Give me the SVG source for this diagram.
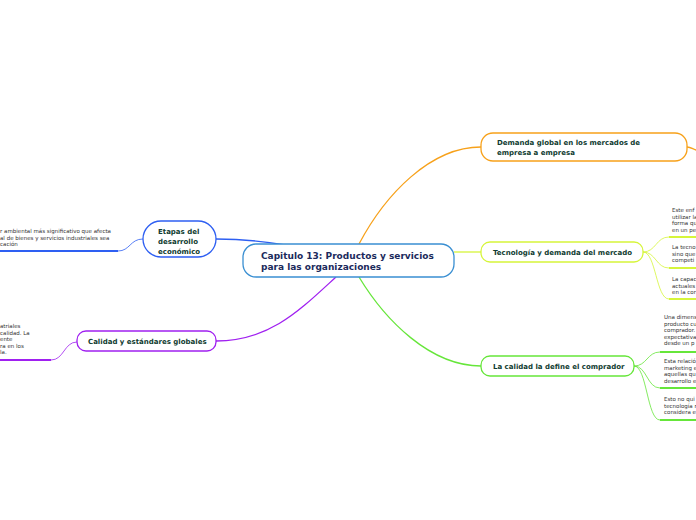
<svg xmlns="http://www.w3.org/2000/svg" width="696" height="520" viewBox="0 0 696 520">
<style>
.node{fill:#fff;stroke-width:1.3}
.t{font-family:"DejaVu Sans",Verdana,sans-serif;font-weight:bold;fill:#0f3b30;font-size:7px}
.ct{font-family:"DejaVu Sans",Verdana,sans-serif;font-weight:bold;fill:#1b2a5c;font-size:9px}
.s{font-family:"DejaVu Sans",Verdana,sans-serif;fill:#333;font-size:5.5px}
.c{fill:none;stroke-width:1.3}
.u{fill:none;stroke-width:2}
.th{fill:none;stroke-width:0.8}
</style>
<rect width="696" height="520" fill="#fff"/>
<g id="connectors">
  <path class="c" stroke="#f7a11a" d="M359,244 C385,195 430,147 481,147"/>
  <path class="c" stroke="#f7a11a" d="M687,147 C692,147 693,150 700,151"/>
  <path class="c" stroke="#d6f53a" d="M454,252 L481,252"/>
  <path class="c" stroke="#66e63a" d="M359,277 C385,320 430,366 481,366"/>
  <path class="c" stroke="#2e5ff2" d="M216,239 C245,239 262,241 285,245"/>
  <path class="c" stroke="#a020f0" d="M216,341 C270,341 300,310 336,277"/>
  <path class="th" stroke="#d6f53a" d="M643,252 C656,252 656,237 669,237"/>
  <path class="th" stroke="#d6f53a" d="M643,252 C656,252 656,268 669,268"/>
  <path class="th" stroke="#d6f53a" d="M643,252 C656,252 656,299 669,299"/>
  <path class="u" stroke="#d6f53a" d="M669,237 H696 M669,268 H696 M669,299 H696"/>
  <path class="th" stroke="#66e63a" d="M634,366 C647,366 647,352 660,352"/>
  <path class="th" stroke="#66e63a" d="M634,366 C647,366 647,388 660,388"/>
  <path class="th" stroke="#66e63a" d="M634,366 C647,366 647,420 660,420"/>
  <path class="u" stroke="#66e63a" d="M660,352 H696 M660,388 H696 M660,420 H696"/>
  <path class="th" stroke="#2e5ff2" d="M143,239 C130,239 130,251 118,251"/>
  <path class="u" stroke="#2e5ff2" d="M118,251 H0"/>
  <path class="th" stroke="#a020f0" d="M77,342 C64,342 64,360 51,360"/>
  <path class="u" stroke="#a020f0" d="M51,360 H0"/>
</g>
<g id="central">
  <rect class="node" x="243" y="244" width="211" height="33" rx="13" stroke="#3a8fd2"/>
  <text class="ct" x="261" y="259">Capitulo 13: Productos y servicios</text>
  <text class="ct" x="261" y="270">para las organizaciones</text>
</g>
<g id="demanda">
  <rect class="node" x="481" y="133" width="206" height="28" rx="12" stroke="#f7a11a"/>
  <text class="t" x="497" y="145">Demanda global en los mercados de</text>
  <text class="t" x="497" y="155">empresa a empresa</text>
</g>
<g id="tecnologia">
  <rect class="node" x="481" y="242" width="162" height="20" rx="9" stroke="#d6f53a"/>
  <text class="t" x="493" y="255">Tecnología y demanda del mercado</text>
</g>
<g id="calidad-comprador">
  <rect class="node" x="481" y="356" width="153" height="20" rx="9" stroke="#66e63a"/>
  <text class="t" x="493" y="369">La calidad la define el comprador</text>
</g>
<g id="etapas">
  <rect class="node" x="143" y="221" width="73" height="36" rx="18" stroke="#2e5ff2"/>
  <text class="t" x="158" y="234">Etapas del</text>
  <text class="t" x="158" y="244">desarrollo</text>
  <text class="t" x="158" y="254">económico</text>
</g>
<g id="calidad-global">
  <rect class="node" x="77" y="331" width="139" height="20" rx="9" stroke="#a020f0"/>
  <text class="t" x="88" y="344">Calidad y estándares globales</text>
</g>
<g id="etapas-texto">
  <text class="s" x="0" y="233">r ambiental más significativo que afecta</text>
  <text class="s" x="0" y="239.5">al de bienes  y servicios industriales sea</text>
  <text class="s" x="0" y="246">cación</text>
</g>
<g id="calidad-global-texto">
  <text class="s" x="0" y="328">atriales</text>
  <text class="s" x="0" y="334.5">calidad. La</text>
  <text class="s" x="0" y="341">ente</text>
  <text class="s" x="0" y="347.5">ra en los</text>
  <text class="s" x="0" y="354">la.</text>
</g>
<g id="tec-textos">
  <text class="s" x="672" y="212">Este enf</text>
  <text class="s" x="672" y="218.5">utilizar la</text>
  <text class="s" x="672" y="225">forma qu</text>
  <text class="s" x="672" y="231.5">en un pe</text>
  <text class="s" x="672" y="249">La tecno</text>
  <text class="s" x="672" y="255.5">sino que</text>
  <text class="s" x="672" y="262">competi</text>
  <text class="s" x="672" y="281">La capac</text>
  <text class="s" x="672" y="287.5">actuales</text>
  <text class="s" x="672" y="294">en la cor</text>
</g>
<g id="comprador-textos">
  <text class="s" x="664" y="319">Una dimens</text>
  <text class="s" x="664" y="325.5">producto cu</text>
  <text class="s" x="664" y="332">comprador.</text>
  <text class="s" x="664" y="338.5">expectativa</text>
  <text class="s" x="664" y="345">desde un p</text>
  <text class="s" x="664" y="363">Esta relació</text>
  <text class="s" x="664" y="369.5">marketing e</text>
  <text class="s" x="664" y="376">aquellas qu</text>
  <text class="s" x="664" y="382.5">desarrollo e</text>
  <text class="s" x="664" y="401">Esto no qui</text>
  <text class="s" x="664" y="407.5">tecnología r</text>
  <text class="s" x="664" y="414">considera e</text>
</g>
</svg>
